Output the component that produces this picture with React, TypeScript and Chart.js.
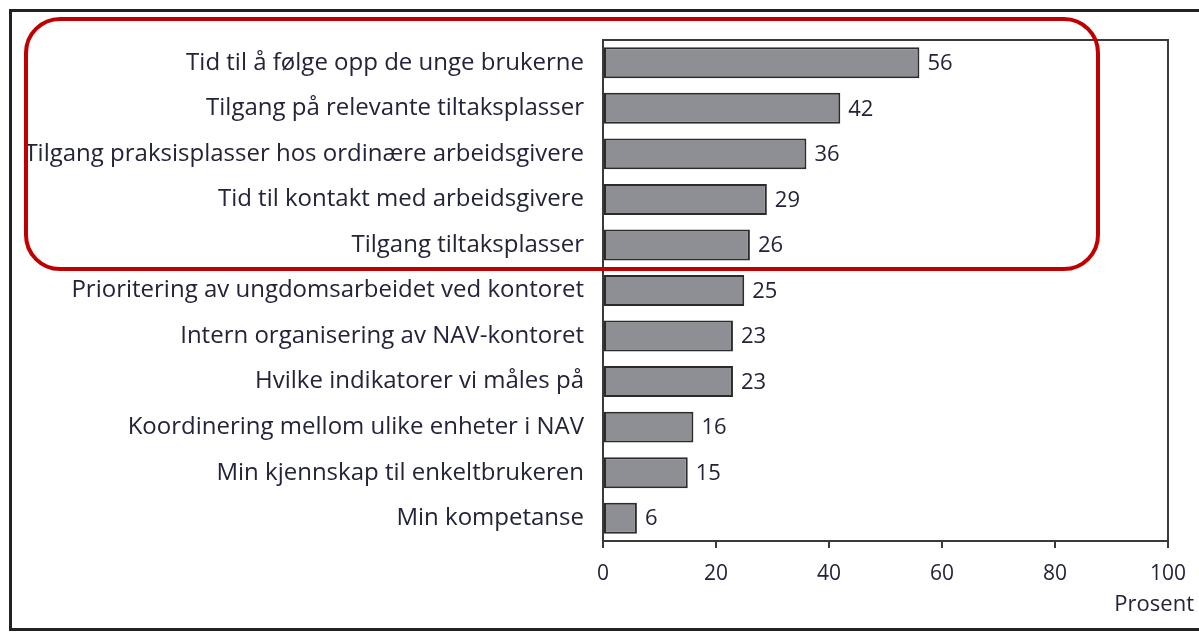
import React, { useEffect, useRef } from "react";
import { Chart, registerables } from "chart.js";

Chart.register(...registerables);

const categories = [
  "Tid til å følge opp de unge brukerne",
  "Tilgang på relevante tiltaksplasser",
  "Tilgang praksisplasser hos ordinære arbeidsgivere",
  "Tid til kontakt med arbeidsgivere",
  "Tilgang tiltaksplasser",
  "Prioritering av ungdomsarbeidet ved kontoret",
  "Intern organisering av NAV-kontoret",
  "Hvilke indikatorer vi måles på",
  "Koordinering mellom ulike enheter i NAV",
  "Min kjennskap til enkeltbrukeren",
  "Min kompetanse",
];
const values = [56, 42, 36, 29, 26, 25, 23, 23, 16, 15, 6];
const xTicks = [0, 20, 40, 60, 80, 100];
const axisTitle = "Prosent";

const FONT = "'Open Sans', 'DejaVu Sans', sans-serif";
const TEXT = "#23233a";

const overlayPlugin = {
  id: "overlay",
  afterDatasetsDraw(chart: any) {
    const ctx = chart.ctx;
    const meta = chart.getDatasetMeta(0);
    ctx.save();
    ctx.font = `22px ${FONT}`;
    ctx.fillStyle = TEXT;
    ctx.textAlign = "left";
    ctx.textBaseline = "middle";
    meta.data.forEach((bar: any, i: number) => {
      ctx.fillText(String(values[i]), bar.x + 8, bar.y + 1);
    });
    ctx.restore();
  },
  afterDraw(chart: any) {
    const ctx = chart.ctx;
    const a = chart.chartArea;
    ctx.save();
    // plot box
    ctx.strokeStyle = "#3a3a3a";
    ctx.lineWidth = 2;
    ctx.strokeRect(a.left, a.top, a.right - a.left, a.bottom - a.top);
    // axis title
    ctx.font = `22px ${FONT}`;
    ctx.fillStyle = TEXT;
    ctx.textAlign = "right";
    ctx.textBaseline = "middle";
    ctx.fillText(axisTitle, 1194, 605);
    // outer frame
    ctx.strokeStyle = "#222";
    ctx.lineWidth = 3;
    ctx.strokeRect(10.5, 10.5, 1250, 619);
    // red highlight
    ctx.strokeStyle = "#c00000";
    ctx.lineWidth = 4;
    ctx.beginPath();
    (ctx as any).roundRect(26, 19, 1072, 250, 34);
    ctx.stroke();
    ctx.restore();
  },
};

export default function App() {
  const ref = useRef<HTMLCanvasElement>(null);
  useEffect(() => {
    document.body.style.margin = "0";
    const chart = new Chart(ref.current!, {
      type: "bar",
      data: {
        labels: categories,
        datasets: [
          {
            data: values,
            backgroundColor: "#8e8f94",
            borderColor: "#2b2b2b",
            borderWidth: 2,
            borderSkipped: false,
            barPercentage: 0.68,
            categoryPercentage: 1,
          },
        ],
      },
      options: {
        indexAxis: "y",
        animation: false,
        responsive: false,
        layout: { padding: { top: 40, right: 31, left: 0, bottom: 0 } },
        plugins: { legend: { display: false }, tooltip: { enabled: false } },
        scales: {
          x: {
            min: 0,
            max: 100,
            afterBuildTicks(scale: any) {
              scale.ticks = xTicks.map((v) => ({ value: v }));
            },
            afterFit(scale: any) {
              scale.height = 632 - 541;
            },
            grid: {
              drawOnChartArea: false,
              drawTicks: true,
              tickLength: 7,
              color: "#3a3a3a",
              lineWidth: 2,
            },
            border: { display: true, color: "#3a3a3a", width: 2 },
            ticks: {
              font: { family: FONT, size: 21 },
              color: TEXT,
              padding: 13,
            },
          },
          y: {
            afterFit(scale: any) {
              scale.width = 603;
            },
            grid: { display: false },
            border: { display: true, color: "#3a3a3a", width: 2 },
            ticks: {
              font: { family: FONT, size: 24 },
              color: TEXT,
              padding: 11,
            },
          },
        },
      },
      plugins: [overlayPlugin],
    });
    return () => chart.destroy();
  }, []);
  return (
    <div style={{ width: 1199, height: 632 }}>
      <canvas ref={ref} width={1199} height={632} style={{ display: "block" }} />
    </div>
  );
}
